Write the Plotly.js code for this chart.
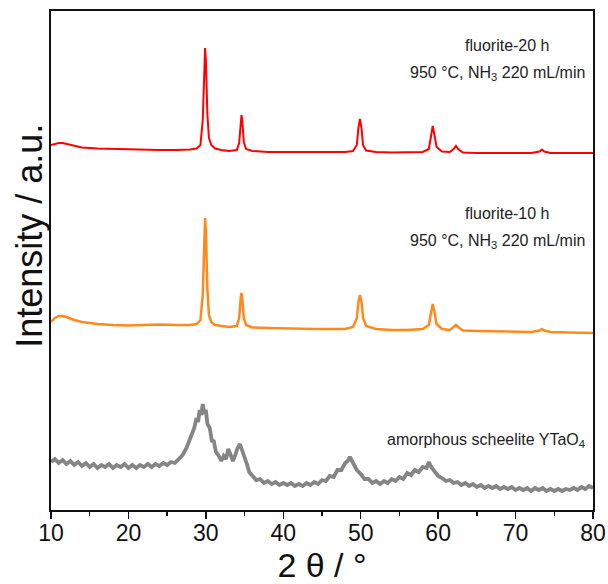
<!DOCTYPE html>
<html><head><meta charset="utf-8">
<script src="https://cdn.plot.ly/plotly-3.0.1.min.js"></script>
<style>body{margin:0;background:#fff}#chart{width:608px;height:584px}</style>
</head><body><div id="chart"></div>
<script>
// 2theta positions (degrees) and intensities (a.u., stacked offsets included)
const redX = [10,10.5,11,11.5,12,13,14,16,18,20,22,24,26,27,28,28.8,29.3,29.6,29.8,29.9,30.0,30.2,30.4,30.7,31.2,32,33,34,34.3,34.5,34.6,34.7,34.9,35.2,36,38,40,42,44,46,48,49,49.5,49.7,49.9,50.1,50.3,50.7,52,54,56,58,58.8,59.1,59.3,59.5,59.8,60.5,61.5,62,62.3,62.6,63.2,65,68,72,73.1,73.4,73.7,74.5,77,80];
const redY = [365,366,367,367,366,364,362.5,361.5,361,360.5,360,360,360,360,360.5,361.5,365,390,450,462,450,395,372,365,361.5,360,359,360,367,390,395,390,368,361,359,358,358,358,358,358,358,359,365,382,391,382,365,359.5,358,357.5,357.5,358,361,375,384,376,363,358.5,358,361,364,361,357.5,357,357,357,358.5,360.5,358.5,357,357,357];

const orangeX = redX;
const orangeY = [188,192,194,194,193,190,188,186,185,184.5,185,185.5,185,185,185,186,190,215,280,292,280,220,195,188,185,184,183,184,192,212,217,212,192,185,182.5,182,181.5,181,181,181,181,183,192,208,215,208,192,184,181,180,180,181,185,198,206,199,186,181,180,183,185,183,179.5,179,178.5,178,179.5,181,179.5,178,177.5,177];

const grayX = [10,10.5,11,11.5,12,12.5,13,13.5,14,14.5,15,15.5,16,16.5,17,17.5,18,18.5,19,19.5,20,20.5,21,21.5,22,22.5,23,23.5,24,24.5,25,25.5,26,26.5,27,27.5,28,28.5,28.8,29,29.2,29.4,29.6,29.8,30,30.2,30.5,30.8,31,31.3,31.6,32,32.3,32.6,32.9,33.2,33.5,33.8,34.1,34.4,34.7,35,35.3,35.6,36,36.5,37,37.5,38,38.5,39,39.5,40,40.5,41,41.5,42,42.5,43,43.5,44,44.5,45,45.5,46,46.5,47,47.5,48,48.3,48.6,48.9,49.2,49.5,50,50.5,51,51.5,52,52.5,53,53.5,54,54.5,55,55.5,56,56.5,57,57.5,58,58.5,58.8,59.1,59.5,60,60.5,61,61.5,62,62.5,63,63.5,64,64.5,65,65.5,66,66.5,67,67.5,68,68.5,69,69.5,70,70.5,71,71.5,72,72.5,73,73.5,74,74.5,75,75.5,76,76.5,77,77.5,78,78.5,79,79.5,80];
const grayY = [48,51,47,50,46,49,45,48,44,47,43,46,42,45,43,46,42,45,43,46,42,45,42,45,43,46,43,46,44,47,45,48,47,51,55,62,72,82,92,88,100,95,106,96,100,86,82,68,70,58,55,49,54,51,61,55,49,55,62,66,60,52,46,38,34,30,31,27,29,26,28,25,27,25,27,24,26,24,27,25,28,26,30,29,34,33,40,40,47,49,53,48,45,40,36,31,31,27,29,26,29,27,31,29,33,31,37,35,40,38,43,42,48,43,39,34,32,29,30,27,28,25,27,24,26,23,25,22,24,22,24,21,23,21,23,20,22,20,22,19,22,20,22,19,21,19,21,19,21,20,22,20,23,21,24,22];

const xTicks = [10,20,30,40,50,60,70,80];

const traces = [
  {x: grayX, y: grayY, mode: 'lines', line: {color: '#858585', width: 3.8}, hoverinfo: 'skip'},
  {x: orangeX, y: orangeY, mode: 'lines', line: {color: '#ff8a1c', width: 2.5}, hoverinfo: 'skip'},
  {x: redX, y: redY, mode: 'lines', line: {color: '#ff0000', width: 2}, hoverinfo: 'skip'}
];

const annFont = {family: 'Liberation Sans, Arial, sans-serif', size: 16, color: '#222'};
const layout = {
  width: 608, height: 584,
  margin: {l: 51, r: 15, t: 11, b: 74},
  paper_bgcolor: '#fff', plot_bgcolor: '#fff',
  showlegend: false,
  font: {family: 'Liberation Sans, Arial, sans-serif', color: '#111'},
  xaxis: {
    range: [10, 80], tickmode: 'array', tickvals: xTicks, ticktext: xTicks.map(String),
    ticks: 'outside', ticklen: 7, tickwidth: 1.5, tickcolor: '#111',
    minor: {dtick: 5, ticks: 'outside', ticklen: 4, tickwidth: 1.5, tickcolor: '#111', showgrid: false},
    showline: true, linewidth: 2, linecolor: '#111', mirror: true,
    showgrid: false, zeroline: false,
    ticklabelstandoff: -6,
    tickfont: {size: 23, color: '#111'},
    title: {text: '2 θ / °', font: {size: 34, color: '#111'}, standoff: 2}
  },
  yaxis: {
    range: [0, 499], showticklabels: false, ticks: '',
    showline: true, linewidth: 2, linecolor: '#111', mirror: true,
    showgrid: false, zeroline: false
  },
  annotations: [
    {xref: 'paper', yref: 'paper', x: -0.04, y: 0.55, text: 'Intensity / a.u.', textangle: -90,
     showarrow: false, xanchor: 'center', yanchor: 'middle', font: {size: 36, color: '#111'}},
    {xref: 'x', yref: 'paper', x: 80, y: 0.93, text: 'fluorite-20 h', showarrow: false,
     xanchor: 'right', yanchor: 'middle', font: annFont, xshift: -41},
    {xref: 'x', yref: 'paper', x: 80, y: 0.875, text: '950 °C, NH<sub>3</sub> 220 mL/min', showarrow: false,
     xanchor: 'right', yanchor: 'middle', font: annFont, xshift: -6},
    {xref: 'x', yref: 'paper', x: 80, y: 0.594, text: 'fluorite-10 h', showarrow: false,
     xanchor: 'right', yanchor: 'middle', font: annFont, xshift: -41},
    {xref: 'x', yref: 'paper', x: 80, y: 0.538, text: '950 °C, NH<sub>3</sub> 220 mL/min', showarrow: false,
     xanchor: 'right', yanchor: 'middle', font: annFont, xshift: -6},
    {xref: 'x', yref: 'paper', x: 80, y: 0.14, text: 'amorphous scheelite YTaO<sub>4</sub>', showarrow: false,
     xanchor: 'right', yanchor: 'middle', font: annFont, xshift: -6}
  ]
};
Plotly.newPlot('chart', traces, layout, {displayModeBar: false, staticPlot: true});
</script></body></html>
